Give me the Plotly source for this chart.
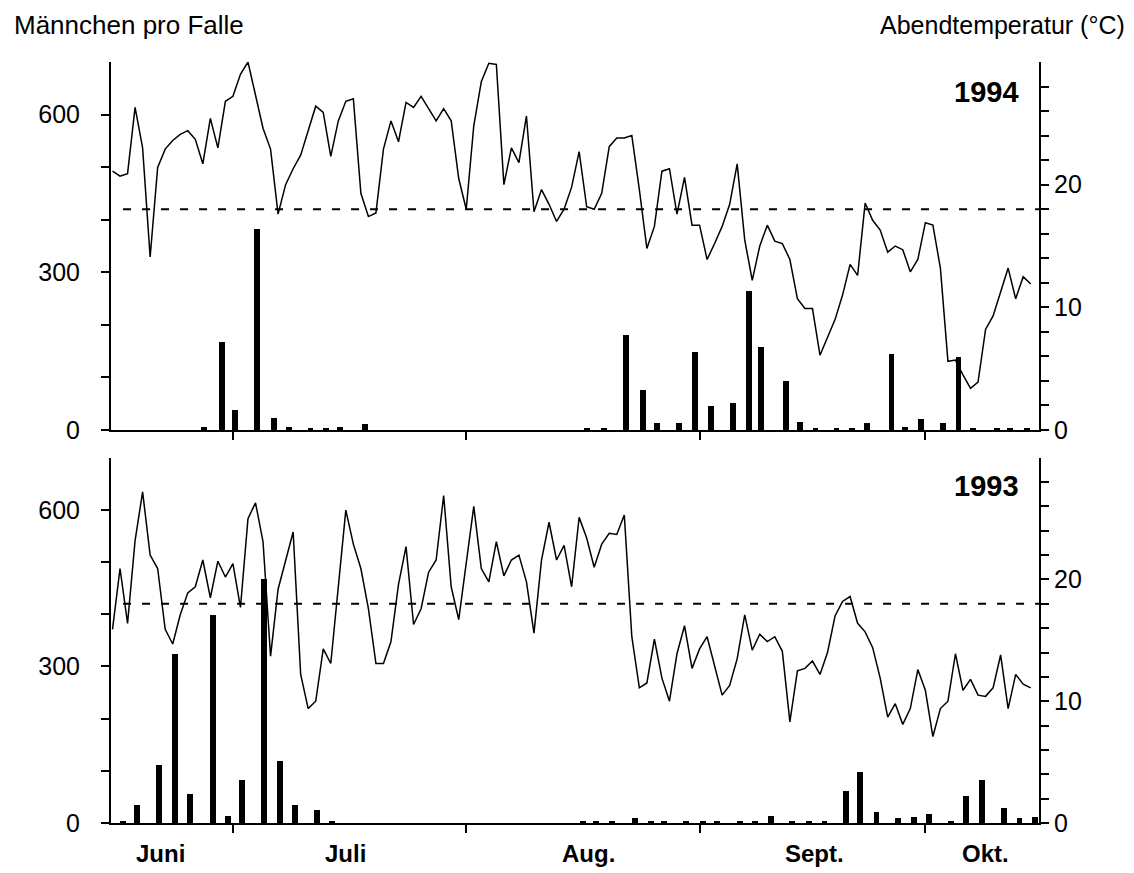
import plotly.graph_objects as go

# ---------------- data ----------------
# day index: 0 = 1 June
FIRST_DAY = 14

TEMP_1994 = [21.1, 20.7, 20.9, 26.3, 23.0, 14.1, 21.4, 22.9, 23.6, 24.1,
             24.4, 23.7, 21.7, 25.4, 23.0, 26.8, 27.2, 29.0, 30.0, 27.4,
             24.6, 22.9, 17.6, 20.0, 21.3, 22.4, 24.5, 26.4, 25.9, 22.3,
             25.2, 26.8, 27.0, 19.3, 17.4, 17.7, 22.9, 25.2, 23.5, 26.7,
             26.3, 27.2, 26.2, 25.2, 26.2, 25.2, 20.5, 18.0, 24.8, 28.4,
             29.9, 29.8, 20.0, 23.0, 21.8, 25.6, 17.8, 19.6, 18.4, 17.0,
             18.0, 19.8, 22.7, 18.2, 18.0, 19.3, 23.1, 23.8, 23.8, 24.0,
             19.6, 14.8, 16.6, 21.1, 21.3, 17.6, 20.6, 16.7, 16.7, 13.9,
             15.2, 16.6, 18.4, 21.7, 15.5, 12.2, 15.0, 16.7, 15.4, 15.2,
             13.9, 10.7, 9.9, 9.9, 6.1, 7.6, 9.0, 11.0, 13.5, 12.6,
             18.5, 17.1, 16.3, 14.5, 15.0, 14.7, 12.9, 13.9, 16.9, 16.7,
             13.2, 5.6, 5.7, 4.5, 3.4, 3.9, 8.2, 9.3, 11.2, 13.2,
             10.7, 12.5, 11.9]

TEMP_1993 = [15.9, 20.9, 16.4, 23.2, 27.2, 22.0, 20.9, 15.9, 14.7, 17.1,
             18.9, 19.4, 21.6, 18.5, 21.5, 20.2, 21.3, 17.7, 25.0, 26.3,
             23.1, 13.7, 19.2, 21.5, 23.9, 12.2, 9.4, 10.0, 14.3, 13.1,
             19.3, 25.7, 22.9, 20.9, 17.6, 13.1, 13.1, 14.9, 19.6, 22.7,
             16.3, 17.6, 20.6, 21.6, 26.9, 19.4, 16.7, 21.5, 26.0, 20.9,
             19.8, 23.1, 20.3, 21.6, 22.0, 19.8, 15.6, 21.6, 24.7, 21.6,
             22.8, 19.4, 25.1, 23.4, 21.0, 22.9, 23.8, 23.7, 25.3, 15.3,
             11.1, 11.5, 15.1, 11.9, 10.0, 13.9, 16.2, 12.7, 14.3, 15.3,
             12.9, 10.5, 11.3, 13.5, 17.1, 14.2, 15.5, 14.9, 15.3, 14.1,
             8.3, 12.5, 12.7, 13.3, 12.2, 14.0, 17.0, 18.2, 18.6, 16.4,
             15.7, 14.4, 11.9, 8.7, 9.8, 8.1, 9.4, 12.6, 10.9, 7.1,
             9.4, 10.0, 13.9, 10.9, 11.8, 10.5, 10.4, 11.1, 13.8, 9.4,
             12.2, 11.4, 11.1]

BAR_DAY_1994 = [26.1, 28.5, 30.3, 33.2, 35.4, 37.4, 40.3, 42.4, 44.2, 47.5,
                77.0, 79.3, 82.2, 84.5, 86.3, 89.3, 91.4, 93.5, 96.4, 98.6,
                100.2, 103.5, 105.3, 107.4, 110.2, 112.3, 114.3, 117.5, 119.3,
                121.4, 124.4, 126.4, 128.3, 131.5, 133.3, 135.5]
BAR_VAL_1994 = [5, 168, 39, 383, 22, 5, 4, 4, 5, 12,
                4, 4, 180, 76, 13, 13, 149, 46, 51, 265,
                158, 93, 16, 4, 4, 4, 13, 145, 5,
                21, 13, 138, 4, 4, 4, 4]

BAR_DAY_1993 = [15.4, 17.2, 20.2, 22.3, 24.3, 27.3, 29.4, 31.2, 34.1, 36.2,
                38.3, 41.2, 43.2, 76.5, 78.2, 80.4, 83.4, 85.5, 87.3, 90.2,
                92.4, 94.3, 97.4, 99.4, 101.5, 104.3, 106.5, 108.6, 111.5,
                113.3, 115.5, 118.4, 120.5, 122.5, 125.4, 127.4, 129.5, 132.4,
                134.5, 136.6]
BAR_VAL_1993 = [4, 35, 112, 325, 56, 399, 14, 82, 468, 120,
                35, 26, 4, 4, 4, 4, 10, 4, 4, 4,
                4, 5, 4, 4, 14, 4, 4, 4, 61,
                99, 22, 10, 13, 17, 4, 52, 82, 30,
                10, 13]

MONTH_BOUNDS = [30, 61, 92, 122]
MONTH_LABELS = ["Juni", "Juli", "Aug.", "Sept.", "Okt."]
MONTH_LABEL_POS = [20.4, 44.9, 77.2, 107.3, 130.0]
X_RANGE = [13.8, 137.1]

THRESHOLD = 18
YEARS = ["1994", "1993"]

COUNT_TICKS = [0, 100, 200, 300, 400, 500, 600]
COUNT_LABELS = ["0", "", "", "300", "", "", "600"]
COUNT_RANGE = [0, 700]
TEMP_TICKS = list(range(0, 30, 2))
TEMP_LABELS = [str(t) if t % 10 == 0 else "" for t in TEMP_TICKS]
TEMP_RANGE = [0, 30]

LEFT_TITLE = "Männchen pro Falle"
RIGHT_TITLE = "Abendtemperatur (°C)"

# ---------------- figure ----------------
FONT = "Liberation Sans, Arial, Helvetica, sans-serif"
days94 = list(range(FIRST_DAY, FIRST_DAY + len(TEMP_1994)))
days93 = list(range(FIRST_DAY, FIRST_DAY + len(TEMP_1993)))

fig = go.Figure()
fig.add_trace(go.Bar(x=BAR_DAY_1994, y=BAR_VAL_1994, width=0.78,
                     marker=dict(color="black", line=dict(width=0)),
                     xaxis="x", yaxis="y", showlegend=False))
fig.add_trace(go.Scatter(x=days94, y=TEMP_1994, mode="lines",
                         line=dict(color="black", width=1.5),
                         xaxis="x", yaxis="y2", showlegend=False))
fig.add_trace(go.Bar(x=BAR_DAY_1993, y=BAR_VAL_1993, width=0.78,
                     marker=dict(color="black", line=dict(width=0)),
                     xaxis="x2", yaxis="y3", showlegend=False))
fig.add_trace(go.Scatter(x=days93, y=TEMP_1993, mode="lines",
                         line=dict(color="black", width=1.5),
                         xaxis="x2", yaxis="y4", showlegend=False))

xcommon = dict(range=X_RANGE, showline=True, linewidth=2, linecolor="black",
               tickvals=MONTH_BOUNDS, ticks="outside", ticklen=8, tickwidth=2,
               tickcolor="black", showticklabels=False, showgrid=False,
               zeroline=False, fixedrange=True)
ycount = dict(range=COUNT_RANGE, showline=True, linewidth=2, linecolor="black",
              tickvals=COUNT_TICKS, ticktext=COUNT_LABELS, ticks="outside",
              ticklen=8, tickwidth=2, tickcolor="black", showgrid=False,
              zeroline=False, tickfont=dict(size=25, color="black", family=FONT),
              ticklabelstandoff=16, fixedrange=True)
ytemp = dict(range=TEMP_RANGE, showline=True, linewidth=2, linecolor="black",
             tickvals=TEMP_TICKS, ticktext=TEMP_LABELS, ticks="outside",
             ticklen=8, tickwidth=2, tickcolor="black", showgrid=False,
             zeroline=False, side="right",
             tickfont=dict(size=25, color="black", family=FONT),
             ticklabelstandoff=0, fixedrange=True)

TOP_DOM = [0.5164, 1.0]
BOT_DOM = [0.0, 0.480]

fig.update_layout(
    width=1134, height=873,
    margin=dict(l=111, r=95, t=62, b=50),
    paper_bgcolor="white", plot_bgcolor="rgba(0,0,0,0)",
    font=dict(family=FONT, color="black"),
    bargap=0,
    xaxis=dict(xcommon, anchor="y"),
    xaxis2=dict(xcommon, anchor="y3"),
    yaxis=dict(ycount, domain=TOP_DOM, anchor="x"),
    yaxis2=dict(ytemp, overlaying="y", anchor="x"),
    yaxis3=dict(ycount, domain=BOT_DOM, anchor="x2"),
    yaxis4=dict(ytemp, overlaying="y3", anchor="x2"),
)

# threshold lines
for yref, xref in (("y2", "x domain"), ("y4", "x2 domain")):
    fig.add_shape(type="line", xref=xref, yref=yref, x0=0.013, x1=1.0,
                  y0=THRESHOLD, y1=THRESHOLD, layer="above",
                  line=dict(color="black", width=2, dash="8px,11px"))

annotations = [
    dict(text=LEFT_TITLE, xref="paper", yref="paper", x=-0.1067, y=1.0486,
         xanchor="left", yanchor="middle", showarrow=False,
         font=dict(size=26, family=FONT, color="black")),
    dict(text=RIGHT_TITLE, xref="paper", yref="paper", x=1.0948, y=1.0486,
         xanchor="right", yanchor="middle", showarrow=False,
         font=dict(size=25, family=FONT, color="black")),
    dict(text="<b>" + YEARS[0] + "</b>", xref="paper", yref="paper",
         x=0.9806, y=0.9606, xanchor="right", yanchor="middle", showarrow=False,
         font=dict(size=29, family=FONT, color="black")),
    dict(text="<b>" + YEARS[1] + "</b>", xref="paper", yref="paper",
         x=0.9806, y=0.4428, xanchor="right", yanchor="middle", showarrow=False,
         font=dict(size=29, family=FONT, color="black")),
]
for lab, pos in zip(MONTH_LABELS, MONTH_LABEL_POS):
    annotations.append(dict(text="<b>" + lab + "</b>", xref="x2", yref="paper",
                            x=pos, y=-0.0405, xanchor="center", yanchor="middle",
                            showarrow=False,
                            font=dict(size=24, family=FONT, color="black")))
fig.update_layout(annotations=annotations)

fig.write_html("out.html", config={"displayModeBar": False},
               post_script="document.body.style.margin='0';document.body.style.overflow='hidden';")
